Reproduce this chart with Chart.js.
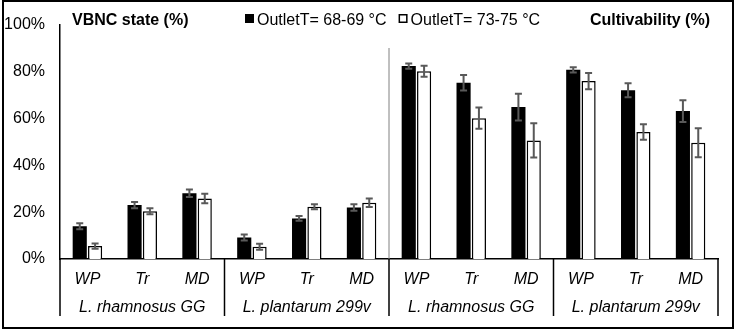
<!DOCTYPE html>
<html>
<head>
<meta charset="utf-8">
<script src="https://cdn.jsdelivr.net/npm/chart.js@4.4.1/dist/chart.umd.min.js"></script>
<style>
  body { margin: 0; background: #fff; }
  #wrap { width: 741px; height: 330px; }
</style>
</head>
<body>
<div id="wrap"><canvas id="vbncChart"></canvas></div>
<script>
// categories and values (in %)
const categories = ['WP', 'Tr', 'MD', 'WP', 'Tr', 'MD', 'WP', 'Tr', 'MD', 'WP', 'Tr', 'MD'];
const groups = ['L. rhamnosus GG', 'L. plantarum 299v', 'L. rhamnosus GG', 'L. plantarum 299v'];
const panelTitles = ['VBNC state (%)', 'Cultivability (%)'];
const seriesNames = ['OutletT= 68-69 °C', 'OutletT= 73-75 °C'];

const outlet6869 = [14.0, 23.0, 28.0, 9.2, 17.3, 22.0, 82.3, 75.2, 64.8, 80.7, 72.0, 63.1];
const outlet6869Err = [1.3, 1.3, 1.6, 1.3, 1.0, 1.4, 1.1, 3.3, 5.7, 1.1, 3.0, 4.6];
const outlet7375 = [5.5, 20.4, 25.8, 5.2, 22.3, 24.0, 80.1, 60.1, 50.6, 75.9, 54.2, 49.6];
const outlet7375Err = [1.1, 1.3, 2.0, 1.3, 1.1, 1.8, 2.3, 4.5, 7.3, 3.5, 3.3, 6.2];

const errors = [outlet6869Err, outlet7375Err];
const font = 'Liberation Sans, Arial, sans-serif';

// error bars, titles, legend, group labels, frame
const extrasPlugin = {
    id: 'extras',
    beforeDraw(chart) {
        const ctx = chart.ctx;
        ctx.save();
        ctx.fillStyle = '#fff';
        ctx.fillRect(0, 0, chart.width, chart.height);
        ctx.restore();
    },
    afterDatasetsDraw(chart) {
        const ctx = chart.ctx;
        const y = chart.scales.y;
        ctx.save();
        ctx.strokeStyle = '#595959';
        ctx.lineWidth = 2;
        chart.data.datasets.forEach((ds, i) => {
            const meta = chart.getDatasetMeta(i);
            meta.data.forEach((bar, j) => {
                const top = y.getPixelForValue(ds.data[j] + errors[i][j]);
                const bottom = y.getPixelForValue(ds.data[j] - errors[i][j]);
                ctx.beginPath();
                ctx.moveTo(bar.x, top);
                ctx.lineTo(bar.x, bottom);
                ctx.moveTo(bar.x - 3.5, top);
                ctx.lineTo(bar.x + 3.5, top);
                ctx.moveTo(bar.x - 3.5, bottom);
                ctx.lineTo(bar.x + 3.5, bottom);
                ctx.stroke();
            });
        });
        ctx.restore();
    },
    afterDraw(chart) {
        const ctx = chart.ctx;
        const x = chart.scales.x;
        const area = chart.chartArea;
        const step = x.getPixelForValue(1) - x.getPixelForValue(0);
        const edge = i => x.getPixelForValue(i) - step / 2;
        ctx.save();

        // gray line between the two panels
        ctx.strokeStyle = '#808080';
        ctx.lineWidth = 1;
        ctx.beginPath();
        ctx.moveTo(edge(6), 48);
        ctx.lineTo(edge(6), area.bottom);
        ctx.stroke();

        // group dividers below the axis
        ctx.strokeStyle = '#000';
        ctx.lineWidth = 1.5;
        for (let g = 0; g <= groups.length; g++) {
            ctx.beginPath();
            ctx.moveTo(edge(g * 3), area.bottom);
            ctx.lineTo(edge(g * 3), 316);
            ctx.stroke();
        }

        // group labels
        ctx.fillStyle = '#000';
        ctx.font = 'italic 16px ' + font;
        ctx.textAlign = 'center';
        ctx.textBaseline = 'alphabetic';
        groups.forEach((g, i) => {
            ctx.fillText(g, (edge(i * 3) + edge(i * 3 + 3)) / 2, 312);
        });

        // panel titles
        ctx.font = 'bold 16px ' + font;
        ctx.textAlign = 'left';
        ctx.fillText(panelTitles[0], 72, 25);
        ctx.textAlign = 'right';
        ctx.fillText(panelTitles[1], 710, 25);

        // legend
        ctx.font = '16px ' + font;
        ctx.textAlign = 'left';
        let lx = 245;
        chart.data.datasets.forEach((ds, i) => {
            if (i === 0) {
                ctx.fillStyle = '#000';
                ctx.fillRect(lx, 14, 9, 9);
            } else {
                ctx.strokeStyle = '#000';
                ctx.lineWidth = 1.5;
                ctx.strokeRect(lx + 0.75, 14.75, 7.5, 7.5);
            }
            ctx.fillStyle = '#000';
            ctx.fillText(ds.label, lx + 12, 25);
            lx += 12 + ctx.measureText(ds.label).width + 12;
        });

        // outer frame
        ctx.strokeStyle = '#000';
        ctx.lineWidth = 2;
        ctx.strokeRect(3, 1, 730, 327);
        ctx.restore();
    }
};

const ctx = document.getElementById('vbncChart').getContext('2d');

new Chart(ctx, {
    type: 'bar',
    data: {
        labels: categories,
        datasets: [{
            label: seriesNames[0],
            data: outlet6869,
            backgroundColor: '#000',
            borderColor: '#000',
            borderWidth: 0
        }, {
            label: seriesNames[1],
            data: outlet7375,
            backgroundColor: '#fff',
            borderColor: '#000',
            borderWidth: 1.5
        }]
    },
    options: {
        responsive: true,
        maintainAspectRatio: false,
        animation: false,
        datasets: {
            bar: {
                categoryPercentage: 0.56,
                barPercentage: 0.92
            }
        },
        layout: {
            padding: { top: 24, left: 4, right: 23, bottom: 11 }
        },
        scales: {
            x: {
                grid: { display: false, drawTicks: false },
                border: { display: true, color: '#000', width: 1.5 },
                ticks: {
                    color: '#000',
                    padding: 11,
                    font: { family: font, size: 16, style: 'italic' }
                },
                afterFit: scale => { scale.height = 60; }
            },
            y: {
                min: 0,
                max: 100,
                grid: { display: false, drawTicks: false },
                border: { display: true, color: '#000', width: 1.5 },
                ticks: {
                    stepSize: 20,
                    color: '#000',
                    padding: 15,
                    font: { family: font, size: 16 },
                    callback: v => v + '%'
                },
                afterFit: scale => { scale.width = 56; }
            }
        },
        plugins: {
            legend: { display: false },
            tooltip: { enabled: false }
        }
    },
    plugins: [extrasPlugin]
});
</script>
</body>
</html>
